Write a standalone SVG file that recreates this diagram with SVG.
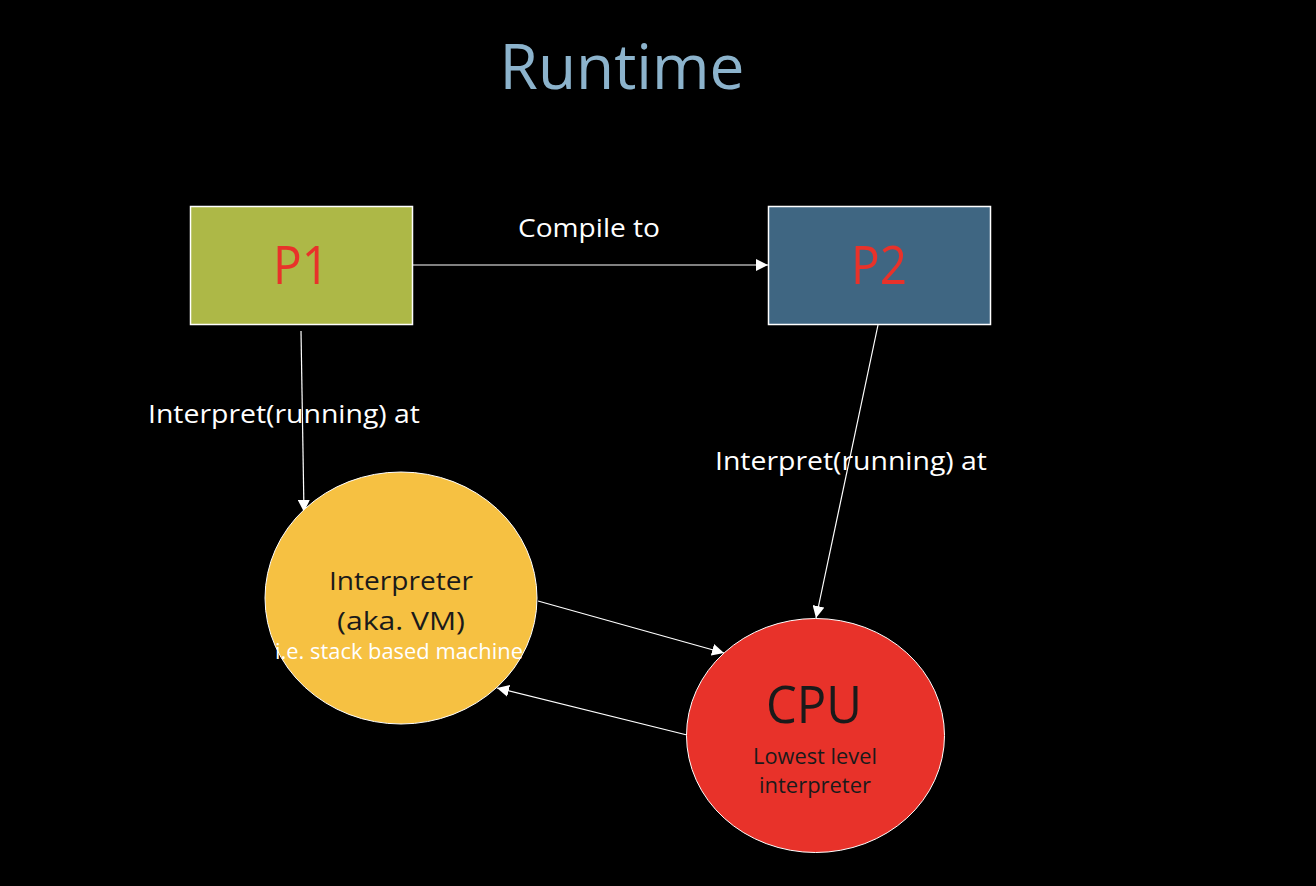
<svg xmlns="http://www.w3.org/2000/svg" width="1316" height="886" viewBox="0 0 1316 886">
<defs>
<marker id="arr" viewBox="0 0 10 10" refX="10" refY="5" markerWidth="12" markerHeight="12" markerUnits="userSpaceOnUse" orient="auto">
<path d="M0,0 L10,5 L0,10 z" fill="#ffffff"/>
</marker>
<style>
text{font-family:"Open Sans","Noto Sans","Liberation Sans",sans-serif;text-anchor:middle}
.lbl{fill:#ffffff;font-size:26px}
.conn{stroke:#ffffff;stroke-width:1.2;fill:none;marker-end:url(#arr)}
.box{stroke:#ffffff;stroke-width:1.5}
.big{fill:#e8322a;font-size:53px}
.dark{fill:#1a1a1a}
</style>
</defs>
<rect width="1316" height="886" fill="#000000"/>
<text x="622" y="89" fill="#8cb3cc" font-size="62" textLength="245" lengthAdjust="spacingAndGlyphs">Runtime</text>
<g id="connectors">
<line class="conn" x1="412" y1="265" x2="768" y2="265"/>
<line class="conn" x1="301" y1="331" x2="304" y2="512"/>
<line class="conn" x1="878" y1="325" x2="816" y2="618"/>
<line class="conn" x1="538" y1="601" x2="724" y2="653"/>
<line class="conn" x1="687" y1="735" x2="497" y2="688"/>
<text class="lbl" x="589" y="237" textLength="142" lengthAdjust="spacingAndGlyphs">Compile to</text>
<text class="lbl" x="284" y="423" textLength="272" lengthAdjust="spacingAndGlyphs">Interpret(running) at</text>
<text class="lbl" x="851" y="470" textLength="272" lengthAdjust="spacingAndGlyphs">Interpret(running) at</text>
</g>
<g id="p1">
<rect class="box" x="190.5" y="206.5" width="222" height="118" fill="#adb847"/>
<text class="big" x="301" y="284" textLength="56" lengthAdjust="spacingAndGlyphs">P1</text>
</g>
<g id="p2">
<rect class="box" x="768.5" y="206.5" width="222" height="118" fill="#3f6682"/>
<text class="big" x="879" y="284" textLength="56" lengthAdjust="spacingAndGlyphs">P2</text>
</g>
<g id="interpreter">
<ellipse cx="401" cy="598" rx="136" ry="126" fill="#f6c142" stroke="#ffffff" stroke-width="1"/>
<text class="dark" x="401" y="590" font-size="26" textLength="144" lengthAdjust="spacingAndGlyphs">Interpreter</text>
<text class="dark" x="401" y="630" font-size="26" textLength="128" lengthAdjust="spacingAndGlyphs">(aka. VM)</text>
<text x="399" y="659" fill="#ffffff" font-size="22" textLength="248" lengthAdjust="spacingAndGlyphs">i.e. stack based machine</text>
</g>
<g id="cpu">
<ellipse cx="815.5" cy="735.5" rx="129" ry="117" fill="#e8322a" stroke="#ffffff" stroke-width="1"/>
<text class="dark" x="814" y="723" font-size="52" textLength="96" lengthAdjust="spacingAndGlyphs">CPU</text>
<text class="dark" x="815" y="764" font-size="22" textLength="124" lengthAdjust="spacingAndGlyphs">Lowest level</text>
<text class="dark" x="815" y="793" font-size="22" textLength="112" lengthAdjust="spacingAndGlyphs">interpreter</text>
</g>
</svg>
